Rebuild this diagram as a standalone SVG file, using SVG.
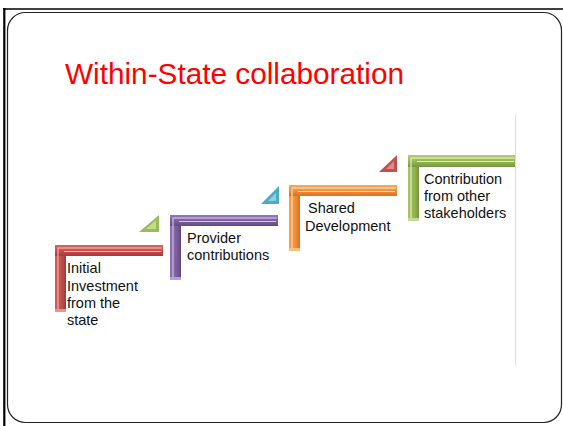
<svg xmlns="http://www.w3.org/2000/svg" width="563" height="426" viewBox="0 0 563 426">
<defs>
<linearGradient id="gRed" x1="0" y1="0" x2="0" y2="1"><stop offset="0" stop-color="#d86562"/><stop offset="0.5" stop-color="#c9504d"/><stop offset="1" stop-color="#a23c39"/></linearGradient>
<linearGradient id="gPur" x1="0" y1="0" x2="0" y2="1"><stop offset="0" stop-color="#9479b8"/><stop offset="0.5" stop-color="#7d60a0"/><stop offset="1" stop-color="#604a82"/></linearGradient>
<linearGradient id="gOra" x1="0" y1="0" x2="0" y2="1"><stop offset="0" stop-color="#f9a95c"/><stop offset="0.5" stop-color="#f58f3c"/><stop offset="1" stop-color="#d47423"/></linearGradient>
<linearGradient id="gGre" x1="0" y1="0" x2="0" y2="1"><stop offset="0" stop-color="#b0cc70"/><stop offset="0.5" stop-color="#98b955"/><stop offset="1" stop-color="#78953e"/></linearGradient>
<linearGradient id="vRed" x1="0" y1="0" x2="1" y2="0"><stop offset="0" stop-color="#d85c59"/><stop offset="0.6" stop-color="#c0504d"/><stop offset="1" stop-color="#9c3b38"/></linearGradient>
<linearGradient id="vPur" x1="0" y1="0" x2="1" y2="0"><stop offset="0" stop-color="#8f73b3"/><stop offset="0.6" stop-color="#7a5e9c"/><stop offset="1" stop-color="#5e4880"/></linearGradient>
<linearGradient id="vOra" x1="0" y1="0" x2="1" y2="0"><stop offset="0" stop-color="#f9a050"/><stop offset="0.6" stop-color="#f58b30"/><stop offset="1" stop-color="#d4721f"/></linearGradient>
<linearGradient id="vGre" x1="0" y1="0" x2="1" y2="0"><stop offset="0" stop-color="#a6c565"/><stop offset="0.6" stop-color="#93b551"/><stop offset="1" stop-color="#76933c"/></linearGradient>
</defs>
<style>
.lbl{font-family:"Liberation Sans",Arial,sans-serif;font-size:14.5px;fill:#111}
.title{font-family:"Liberation Sans",Arial,sans-serif;font-size:29.5px;fill:#ff0000}
.hl{fill:none;stroke-width:1.4;stroke-linecap:square}
</style>
<rect x="0" y="0" width="563" height="426" fill="#ffffff"/>
<line x1="3" y1="9" x2="563" y2="9" stroke="#000" stroke-width="1.6"/>
<line x1="4.3" y1="8" x2="4.3" y2="426" stroke="#000" stroke-width="2.2"/>
<rect x="7.5" y="12.5" width="554" height="410" rx="18" ry="18" fill="#fff" stroke="#222" stroke-width="1.2"/>
<line x1="515.5" y1="115" x2="515.5" y2="365" stroke="#dcdcdc" stroke-width="1"/>
<text class="title" x="65" y="84" textLength="339" lengthAdjust="spacingAndGlyphs">Within-State collaboration</text>

<g id="step1">
<rect x="55" y="245" width="11" height="67" fill="url(#vRed)"/>
<rect x="55" y="245" width="108" height="11" fill="url(#gRed)"/>
<polyline class="hl" points="58,309 58,248 161,248" stroke="#f0a09e"/>
<line x1="64" y1="251.5" x2="161" y2="251.5" stroke="#f4b8b6" stroke-width="1"/>
<rect x="55" y="309" width="11" height="3" fill="#e89492"/>
<text class="lbl"><tspan x="67" y="273">Initial</tspan><tspan x="67" y="291">Investment</tspan><tspan x="67" y="308">from the</tspan><tspan x="67" y="325">state</tspan></text>
</g>

<g id="step2">
<rect x="170" y="215" width="11" height="65" fill="url(#vPur)"/>
<rect x="170" y="215" width="108" height="11" fill="url(#gPur)"/>
<polyline class="hl" points="173,277 173,218 276,218" stroke="#c2addd"/>
<line x1="179" y1="221.5" x2="276" y2="221.5" stroke="#d2c2e6" stroke-width="1"/>
<rect x="170" y="277" width="11" height="3" fill="#b6a0d2"/>
<text class="lbl"><tspan x="187" y="243">Provider</tspan><tspan x="187" y="260">contributions</tspan></text>
</g>

<g id="step3">
<rect x="289" y="185" width="11" height="66" fill="url(#vOra)"/>
<rect x="289" y="185" width="108" height="11" fill="url(#gOra)"/>
<polyline class="hl" points="292,248 292,188 395,188" stroke="#fdd4a4"/>
<line x1="298" y1="191.5" x2="395" y2="191.5" stroke="#fee0bc" stroke-width="1"/>
<rect x="289" y="248" width="11" height="3" fill="#fbbf84"/>
<text class="lbl"><tspan x="308" y="213">Shared</tspan><tspan x="305" y="231">Development</tspan></text>
</g>

<g id="step4">
<rect x="408" y="155" width="11" height="66" fill="url(#vGre)"/>
<rect x="408" y="155" width="107" height="12" fill="url(#gGre)"/>
<polyline class="hl" points="411,218 411,158 514,158" stroke="#d6e6ae"/>
<line x1="417" y1="161.5" x2="514" y2="161.5" stroke="#e2edc0" stroke-width="1"/>
<rect x="408" y="218" width="11" height="3" fill="#c4da92"/>
<text class="lbl"><tspan x="424" y="184">Contribution</tspan><tspan x="424" y="201">from other</tspan><tspan x="424" y="218">stakeholders</tspan></text>
</g>

<g id="connectors">
<g id="tri1">
<polygon points="139,232 159,215 159,232" fill="#9bbb59"/>
<polygon points="146,229 156,220 156,229" fill="#c3da88"/>
</g>
<g id="tri2">
<polygon points="261,204 279,186 279,204" fill="#4bacc6"/>
<polygon points="268,201 276,193 276,201" fill="#8fd0e2"/>
</g>
<g id="tri3">
<polygon points="379,172 397,155 397,172" fill="#c0504d"/>
<polygon points="386,169 394,161 394,169" fill="#e08a88"/>
</g>
</g>
</svg>
